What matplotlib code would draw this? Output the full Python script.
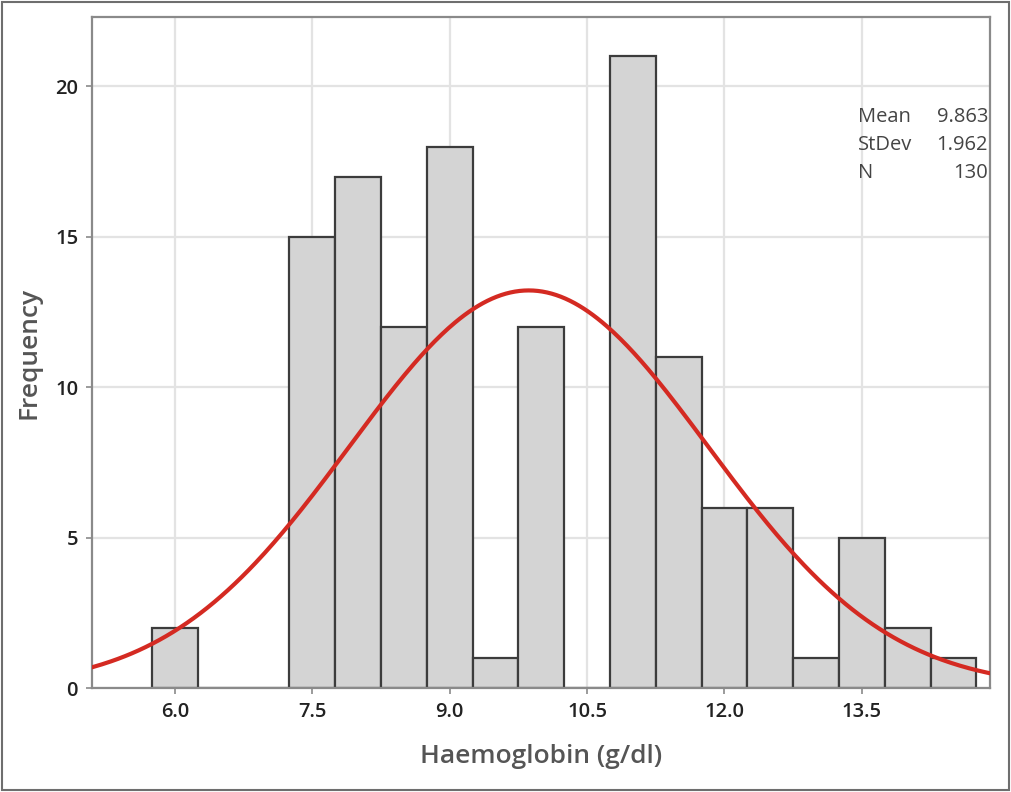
import numpy as np
import matplotlib
matplotlib.use('Agg')
import matplotlib.pyplot as plt
from matplotlib.patches import Rectangle

# bin midpoints and counts
midpoints = [6.0, 6.5, 7.0, 7.5, 8.0, 8.5, 9.0, 9.5, 10.0, 10.5,
             11.0, 11.5, 12.0, 12.5, 13.0, 13.5, 14.0, 14.5]
counts = [2, 0, 0, 15, 17, 12, 18, 1, 12, 0,
          21, 11, 6, 6, 1, 5, 2, 1]
bin_width = 0.5
mean = 9.863
stdev = 1.962
n = 130
xticks = [6.0, 7.5, 9.0, 10.5, 12.0, 13.5]
yticks = [0, 5, 10, 15, 20]

plt.rcParams['font.family'] = ['Open Sans', 'DejaVu Sans']

fig = plt.figure(figsize=(10.11, 7.92), dpi=100)
ax = fig.add_axes([0.091, 0.1313, 0.888, 0.847])

ax.bar(midpoints, counts, width=bin_width, color='#d4d4d4',
       edgecolor='#3c3c3c', linewidth=1.6, zorder=2)

xs = np.linspace(5.0, 15.0, 400)
pdf = np.exp(-0.5 * ((xs - mean) / stdev) ** 2) / (stdev * np.sqrt(2 * np.pi))
ax.plot(xs, n * bin_width * pdf, color='#d42a22', linewidth=3.0, zorder=3)

ax.set_xlim(5.094, 14.897)
ax.set_ylim(0, 22.3)
ax.set_xticks(xticks)
ax.set_xticklabels(['%.1f' % t for t in xticks])
ax.set_yticks(yticks)
ax.grid(True, color='#e3e3e3', linewidth=1.6, zorder=0)
ax.set_axisbelow(True)

for s in ax.spines.values():
    s.set_color('#8a8a8a')
    s.set_linewidth(1.6)
ax.tick_params(axis='both', length=4, width=1.2, color='#8a8a8a',
               labelsize=14.5, labelcolor='#222222', pad=6)
for lab in ax.get_xticklabels() + ax.get_yticklabels():
    lab.set_fontweight('semibold')

ax.set_xlabel('Haemoglobin (g/dl)', fontsize=19, color='#555555',
              fontweight='semibold', labelpad=16)
ax.set_ylabel('Frequency', fontsize=19, color='#555555',
              fontweight='semibold', labelpad=10)

stats = [('Mean', '%.3f' % mean), ('StDev', '%.3f' % stdev), ('N', '%d' % n)]
for i, (k, v) in enumerate(stats):
    yy = 0.852 - i * 0.0354
    fig.text(858 / 1011, yy, k, fontsize=14.5, color='#444444', va='center', ha='left')
    fig.text(988 / 1011, yy, v, fontsize=14.5, color='#444444', va='center', ha='right')

fig.patches.append(Rectangle((0.0015, 0.002), 0.997, 0.996, transform=fig.transFigure,
                             fill=False, edgecolor='#6e6e6e', linewidth=1.5))

fig.savefig('out.png', dpi=100)
